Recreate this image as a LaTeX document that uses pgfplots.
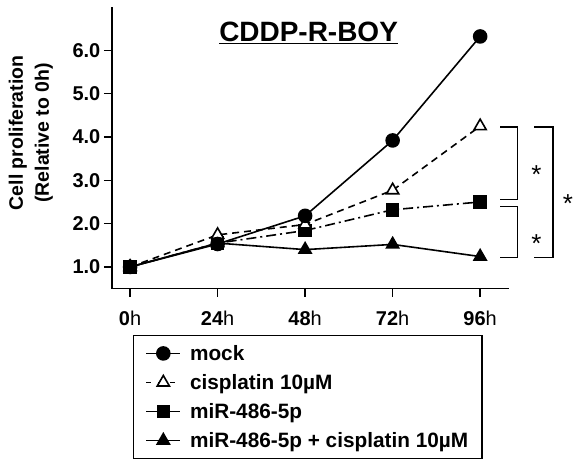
\documentclass[border=0pt]{standalone}
\usepackage{fontspec}
\setmainfont{Liberation Sans}
\usepackage{pgfplots}
\pgfplotsset{compat=1.18}
\begin{document}
\begin{tikzpicture}
\begin{axis}[
  scale only axis, width=398pt, height=282pt,
  xmin=-5, xmax=104, ymin=0.5, ymax=7,
  axis x line=bottom, axis y line=left,
  axis line style={-, line width=1.6pt},
  xtick={0,24,48,72,96},
  xticklabels={0\mdseries h,24\mdseries h,48\mdseries h,72\mdseries h,96\mdseries h},
  ytick={1,2,3,4,5,6},
  yticklabels={1.0,2.0,3.0,4.0,5.0,6.0},
  tick align=outside,
  major tick length=8pt,
  tick style={line width=1.4pt, black},
  tick label style={font=\fontsize{20}{24}\selectfont\bfseries},
  xticklabel style={yshift=-11pt},
  ylabel={Cell proliferation\\(Relative to 0h)},
  ylabel style={align=center, font=\fontsize{19.5}{26}\selectfont\bfseries,
    at={(axis description cs:-0.204,0.553)}, anchor=center},
  clip=false,
  every axis plot/.append style={line width=1.6pt, black},
  legend image code/.code={\draw[mark repeat=2,mark phase=2]
      plot coordinates {(0pt,0pt)(17pt,0pt)(34pt,0pt)};},
  legend style={at={(rel axis cs:0.053,-0.163)}, anchor=north west,
    draw=black, line width=1.3pt, inner xsep=12pt, inner ysep=8pt,
    font=\fontsize{20.8}{24}\selectfont\bfseries, row sep=8.5pt,
    legend cell align=left},
]
% legend (drawn in legend order)
\addlegendimage{solid, line width=1.6pt, mark=*, mark size=6.5pt}
\addlegendentry{\hspace{7pt}mock}
\addlegendimage{dash pattern=on 5pt off 7pt, line width=1.6pt, mark=triangle*, mark size=7pt, mark options={solid, fill=white}}
\addlegendentry{\hspace{7pt}cisplatin 10µM}
\addlegendimage{solid, line width=1.6pt, mark=square*, mark size=6pt}
\addlegendentry{\hspace{7pt}miR-486-5p}
\addlegendimage{solid, line width=1.6pt, mark=triangle*, mark size=7pt}
\addlegendentry{\hspace{7pt}miR-486-5p + cisplatin 10µM\hspace{8pt}}

% data, mock drawn last so it lies on top
\addplot[forget plot, solid, mark=triangle*, mark size=7pt] coordinates {
  (0,1.0) (24,1.55) (48,1.40) (72,1.52) (96,1.24)};
\addplot[forget plot, dash pattern=on 10pt off 4pt on 2pt off 4pt, mark=square*, mark size=6pt,
  mark options={solid}] coordinates {
  (0,1.0) (24,1.55) (48,1.84) (72,2.32) (96,2.5)};
\addplot[forget plot, dash pattern=on 7pt off 5pt, mark=triangle*, mark size=7pt,
  mark options={solid, fill=white}] coordinates {
  (0,1.0) (24,1.74) (48,1.98) (72,2.77) (96,4.25)};
\addplot[forget plot, solid, mark=*, mark size=6.5pt] coordinates {
  (0,1.0) (24,1.53) (48,2.18) (72,3.92) (96,6.32)};

% significance brackets
\draw[line width=1.3pt] (axis cs:101.5,4.23) -| (axis cs:106.2,2.55) -- (axis cs:101.5,2.55);
\draw[line width=1.3pt] (axis cs:101.5,2.39) -| (axis cs:106.2,1.21) -- (axis cs:101.5,1.21);
\draw[line width=1.3pt] (axis cs:110.8,4.23) -| (axis cs:116,1.21) -- (axis cs:110.8,1.21);
\node[font=\fontsize{26}{28}\selectfont, inner sep=0pt, xshift=3pt, yshift=-7pt] at (axis cs:110.6,3.29) {*};
\node[font=\fontsize{26}{28}\selectfont, inner sep=0pt, xshift=3pt, yshift=-7pt] at (axis cs:110.6,1.70) {*};
\node[font=\fontsize{26}{28}\selectfont, inner sep=0pt, xshift=1pt, yshift=-7pt] at (axis cs:119.8,2.62) {*};

\node[font=\fontsize{28}{32}\selectfont\bfseries] at (rel axis cs:0.495,0.908) {\underline{CDDP-R-BOY}};

\path (rel axis cs:-0.2814,1.0248) rectangle (rel axis cs:1.1583,-0.6099);
\end{axis}
\end{tikzpicture}
\end{document}
